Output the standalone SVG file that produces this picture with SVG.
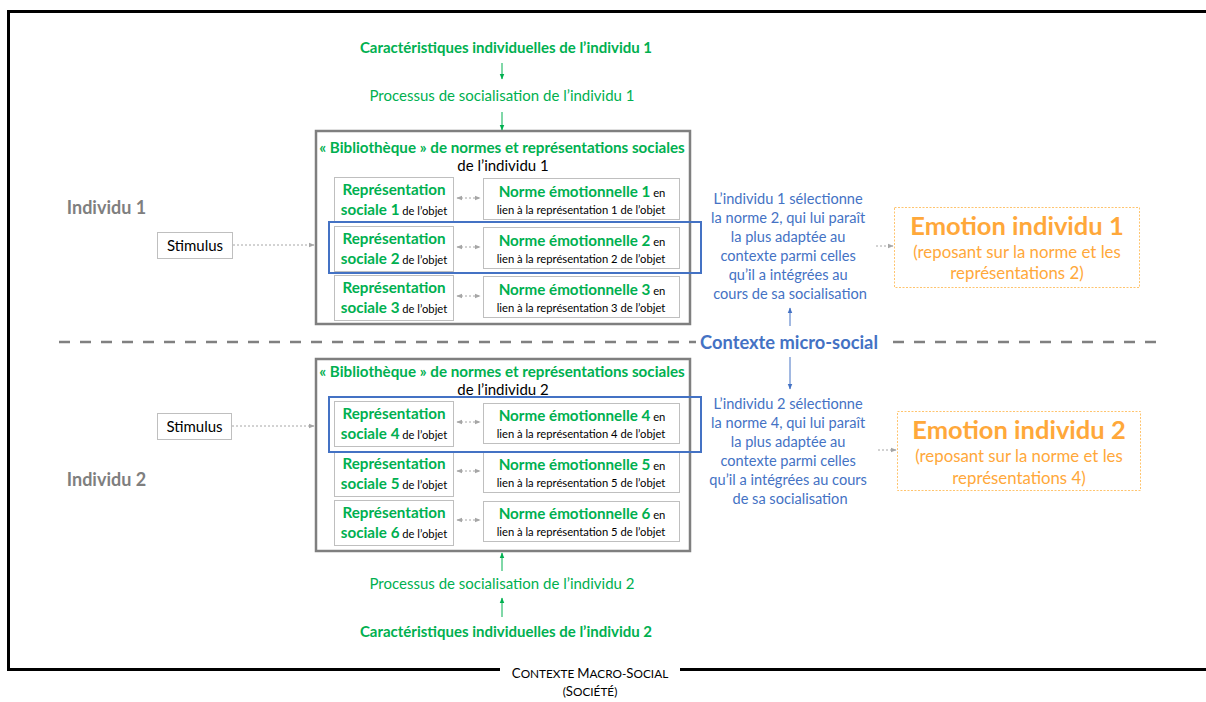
<svg xmlns="http://www.w3.org/2000/svg" width="1206" height="702" viewBox="0 0 1206 702">
<defs>
<style>
text{font-family:Lato,"Open Sans","Liberation Sans",sans-serif;}
.g{fill:#00B050;}
.b{font-weight:bold;}
.k{fill:#000;}
.bl{fill:#4472C4;}
.or{fill:#FFA83A;}
.gr{fill:#7F7F7F;}
.lib{fill:#fff;stroke:#7F7F7F;stroke-width:2.5;}
.in{fill:#fff;stroke:#BFBFBF;stroke-width:1;}
.hl{fill:none;stroke:#4472C4;stroke-width:2;}
.emo{fill:#fff;stroke:#FFC46E;stroke-width:1;stroke-dasharray:2 1.5;}
.ga{stroke:#00B050;stroke-width:1;fill:none;}
.ba{stroke:#4472C4;stroke-width:1;fill:none;}
.da{stroke:#A6A6A6;stroke-width:1;stroke-dasharray:2 2;fill:none;}
.m{text-anchor:middle;}
.t1{font-size:15px;}
.rb{font-size:15.2px;}
.sm{font-size:11.2px;}
.bt{font-size:14.6px;}
</style>
<marker id="ag" viewBox="0 0 10 10" refX="9" refY="5" markerWidth="6" markerHeight="6" orient="auto"><path d="M0,1 L10,5 L0,9 z" fill="#00B050"/></marker>
<marker id="ab" viewBox="0 0 10 10" refX="9" refY="5" markerWidth="6" markerHeight="6" orient="auto"><path d="M0,1 L10,5 L0,9 z" fill="#4472C4"/></marker>
<marker id="ad" viewBox="0 0 10 10" refX="9" refY="5" markerWidth="6" markerHeight="6" orient="auto-start-reverse"><path d="M0,1 L10,5 L0,9 z" fill="#A6A6A6"/></marker>
</defs>
<rect width="1206" height="702" fill="#fff"/>

<g id="frame">
<path d="M500,669.5 L8.5,669.5 L8.5,11.5 L1210,11.5 M680,669.5 L1210,669.5" fill="none" stroke="#000" stroke-width="3"/>
<text x="590" y="678" class="m" font-size="11.8" fill="#000"><tspan font-size="13.2">C</tspan>ONTEXTE <tspan font-size="13.2">M</tspan>ACRO-<tspan font-size="13.2">S</tspan>OCIAL</text>
<text x="590" y="696" class="m" font-size="11.8" fill="#000">(<tspan font-size="13.2">S</tspan>OCIÉTÉ)</text>
</g>

<g id="divider">
<line x1="59" y1="342" x2="696" y2="342" stroke="#808080" stroke-width="2.5" stroke-dasharray="11 10"/>
<line x1="893" y1="342" x2="1158" y2="342" stroke="#808080" stroke-width="2.5" stroke-dasharray="11 10"/>
<text x="789" y="348.5" class="m b bl" font-size="18.3">Contexte micro-social</text>
</g>

<g id="labels">
<text x="106.5" y="213.5" class="m b gr" font-size="18">Individu 1</text>
<text x="106.5" y="486" class="m b gr" font-size="18">Individu 2</text>
</g>

<g id="top1">
<text x="506" y="53" class="m b g t1">Caractéristiques individuelles de l’individu 1</text>
<text x="502" y="101" class="m g t1">Processus de socialisation de l’individu 1</text>
</g>
<g id="bottom2">
<text x="502" y="589" class="m g t1">Processus de socialisation de l’individu 2</text>
<text x="506" y="637" class="m b g t1">Caractéristiques individuelles de l’individu 2</text>
</g>

<g id="stimulus1">
<rect x="157.5" y="232.5" width="75" height="26" class="in"/>
<text x="195" y="250.5" class="m k" font-size="15">Stimulus</text>
</g>
<g id="stimulus2">
<rect x="157.5" y="413.5" width="74" height="26" class="in"/>
<text x="194.5" y="431.5" class="m k" font-size="15">Stimulus</text>
</g>

<g id="library1">
<rect x="316" y="131" width="374" height="193" class="lib"/>
<text x="502" y="152.5" class="m b g" font-size="15.2">« Bibliothèque » de normes et représentations sociales</text>
<text x="503" y="171" class="m k" font-size="15">de l’individu 1</text>
</g>
<g id="rep1">
<rect x="334.5" y="177.5" width="119" height="45" class="in"/>
<text x="394" y="194.5" class="m b g rb">Représentation</text>
<text x="394" y="214.5" class="m"><tspan class="b g rb">sociale 1</tspan><tspan class="k sm"> de l’objet</tspan></text>
</g>
<g id="norm1">
<rect x="483.5" y="178.5" width="196" height="41" class="in"/>
<text x="582" y="196.5" class="m"><tspan class="b g rb">Norme émotionnelle 1</tspan><tspan class="k sm"> en</tspan></text>
<text x="581" y="213.5" class="m k sm">lien à la représentation 1 de l’objet</text>
</g>
<g id="rep2">
<rect x="334.5" y="226.5" width="119" height="45" class="in"/>
<text x="394" y="243.5" class="m b g rb">Représentation</text>
<text x="394" y="263.5" class="m"><tspan class="b g rb">sociale 2</tspan><tspan class="k sm"> de l’objet</tspan></text>
</g>
<g id="norm2">
<rect x="483.5" y="227.5" width="196" height="41" class="in"/>
<text x="582" y="245.5" class="m"><tspan class="b g rb">Norme émotionnelle 2</tspan><tspan class="k sm"> en</tspan></text>
<text x="581" y="262.5" class="m k sm">lien à la représentation 2 de l’objet</text>
</g>
<g id="rep3">
<rect x="334.5" y="275.5" width="119" height="45" class="in"/>
<text x="394" y="292.5" class="m b g rb">Représentation</text>
<text x="394" y="312.5" class="m"><tspan class="b g rb">sociale 3</tspan><tspan class="k sm"> de l’objet</tspan></text>
</g>
<g id="norm3">
<rect x="483.5" y="276.5" width="196" height="41" class="in"/>
<text x="582" y="294.5" class="m"><tspan class="b g rb">Norme émotionnelle 3</tspan><tspan class="k sm"> en</tspan></text>
<text x="581" y="311.5" class="m k sm">lien à la représentation 3 de l’objet</text>
</g>
<g id="highlight1"><rect x="329" y="222" width="372" height="51" class="hl"/></g>

<g id="library2">
<rect x="316" y="359" width="374" height="192" class="lib"/>
<text x="502" y="376.5" class="m b g" font-size="15.2">« Bibliothèque » de normes et représentations sociales</text>
<text x="503" y="394.5" class="m k" font-size="15">de l’individu 2</text>
</g>
<g id="rep4">
<rect x="334.5" y="401.5" width="119" height="45" class="in"/>
<text x="394" y="418.5" class="m b g rb">Représentation</text>
<text x="394" y="438.5" class="m"><tspan class="b g rb">sociale 4</tspan><tspan class="k sm"> de l’objet</tspan></text>
</g>
<g id="norm4">
<rect x="483.5" y="403.5" width="196" height="40" class="in"/>
<text x="582" y="420.5" class="m"><tspan class="b g rb">Norme émotionnelle 4</tspan><tspan class="k sm"> en</tspan></text>
<text x="581" y="437.5" class="m k sm">lien à la représentation 4 de l’objet</text>
</g>
<g id="rep5">
<rect x="334.5" y="451.5" width="119" height="45" class="in"/>
<text x="394" y="468.5" class="m b g rb">Représentation</text>
<text x="394" y="488.5" class="m"><tspan class="b g rb">sociale 5</tspan><tspan class="k sm"> de l’objet</tspan></text>
</g>
<g id="norm5">
<rect x="483.5" y="452.5" width="196" height="40" class="in"/>
<text x="582" y="470" class="m"><tspan class="b g rb">Norme émotionnelle 5</tspan><tspan class="k sm"> en</tspan></text>
<text x="581" y="486.5" class="m k sm">lien à la représentation 5 de l’objet</text>
</g>
<g id="rep6">
<rect x="334.5" y="500.5" width="119" height="45" class="in"/>
<text x="394" y="517.5" class="m b g rb">Représentation</text>
<text x="394" y="537.5" class="m"><tspan class="b g rb">sociale 6</tspan><tspan class="k sm"> de l’objet</tspan></text>
</g>
<g id="norm6">
<rect x="483.5" y="501.5" width="196" height="40" class="in"/>
<text x="582" y="519" class="m"><tspan class="b g rb">Norme émotionnelle 6</tspan><tspan class="k sm"> en</tspan></text>
<text x="581" y="535.5" class="m k sm">lien à la représentation 5 de l’objet</text>
</g>
<g id="highlight2"><rect x="329" y="397" width="372" height="55" class="hl"/></g>

<g id="choice1">
<text class="m bl bt">
<tspan x="790" y="203.5">L’individu 1 sélectionne</tspan>
<tspan x="790" y="222.5">la norme 2, qui lui paraît</tspan>
<tspan x="790" y="241.5">la plus adaptée au</tspan>
<tspan x="790" y="261">contexte parmi celles</tspan>
<tspan x="790" y="280">qu’il a intégrées au</tspan>
<tspan x="790" y="299">cours de sa socialisation</tspan>
</text>
</g>
<g id="choice2">
<text class="m bl bt">
<tspan x="790" y="409">L’individu 2 sélectionne</tspan>
<tspan x="790" y="428">la norme 4, qui lui paraît</tspan>
<tspan x="790" y="447">la plus adaptée au</tspan>
<tspan x="790" y="466">contexte parmi celles</tspan>
<tspan x="790" y="485">qu’il a intégrées au cours</tspan>
<tspan x="790" y="503.5">de sa socialisation</tspan>
</text>
</g>

<g id="emotion1">
<rect x="894.5" y="207.5" width="245" height="80" class="emo"/>
<text x="1017" y="234.5" class="m b or" font-size="25.5">Emotion individu 1</text>
<text x="1017" y="258" class="m or" font-size="16.8">(reposant sur la norme et les</text>
<text x="1017" y="279" class="m or" font-size="16.8">représentations 2)</text>
</g>
<g id="emotion2">
<rect x="897.5" y="411.5" width="243" height="79" class="emo"/>
<text x="1019" y="438.5" class="m b or" font-size="25.5">Emotion individu 2</text>
<text x="1019" y="462" class="m or" font-size="16.8">(reposant sur la norme et les</text>
<text x="1019" y="484" class="m or" font-size="16.8">représentations 4)</text>
</g>

<g id="connectors">
<line x1="502" y1="63" x2="502" y2="79" class="ga" marker-end="url(#ag)"/>
<line x1="502" y1="112" x2="502" y2="130" class="ga" marker-end="url(#ag)"/>
<line x1="502" y1="571" x2="502" y2="553" class="ga" marker-end="url(#ag)"/>
<line x1="502" y1="617" x2="502" y2="598" class="ga" marker-end="url(#ag)"/>
<line x1="790" y1="326" x2="790" y2="308" class="ba" marker-end="url(#ab)"/>
<line x1="790" y1="357" x2="790" y2="389" class="ba" marker-end="url(#ab)"/>
<line x1="233" y1="245" x2="314" y2="245" class="da" marker-end="url(#ad)"/>
<line x1="232" y1="426" x2="314" y2="426" class="da" marker-end="url(#ad)"/>
<line x1="876" y1="246" x2="893" y2="246" class="da" marker-end="url(#ad)"/>
<line x1="878" y1="450" x2="896" y2="450" class="da" marker-end="url(#ad)"/>
<line x1="457" y1="198" x2="480" y2="198" class="da" marker-start="url(#ad)" marker-end="url(#ad)"/>
<line x1="457" y1="247" x2="480" y2="247" class="da" marker-start="url(#ad)" marker-end="url(#ad)"/>
<line x1="457" y1="296" x2="480" y2="296" class="da" marker-start="url(#ad)" marker-end="url(#ad)"/>
<line x1="457" y1="422" x2="480" y2="422" class="da" marker-start="url(#ad)" marker-end="url(#ad)"/>
<line x1="457" y1="471" x2="480" y2="471" class="da" marker-start="url(#ad)" marker-end="url(#ad)"/>
<line x1="457" y1="520" x2="480" y2="520" class="da" marker-start="url(#ad)" marker-end="url(#ad)"/>
</g>
</svg>
